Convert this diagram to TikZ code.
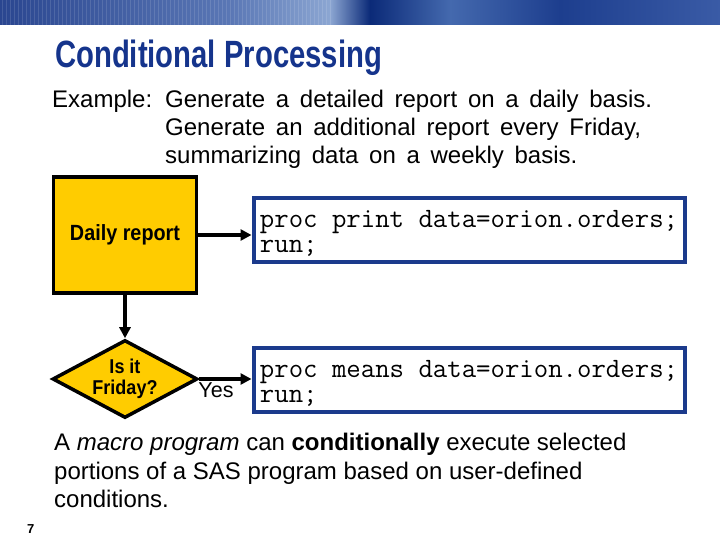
\documentclass[tikz,border=0pt]{standalone}
\usepackage{fontspec}
\setmainfont{Liberation Sans}
\newfontfamily\titlefont[FakeStretch=0.77]{Liberation Sans}
\newfontfamily\narrowfont[FakeStretch=0.9]{Liberation Sans}
\newfontfamily\examplefont[WordSpace=1.6]{Liberation Sans}
\newfontfamily\codefont[WordSpace={1,0,0}]{Latin Modern Mono}
\newcommand\codestrut{\rule{0pt}{23pt}}
\usetikzlibrary{arrows.meta,positioning,shapes.geometric}

\definecolor{titleblue}{HTML}{15348C}
\definecolor{boxblue}{HTML}{1B3A8C}
\definecolor{flowyellow}{HTML}{FFCC00}

\begin{document}
\begin{tikzpicture}[x=1pt, y=-1pt,
    % --- Text styles ---
    body text/.style={anchor=base west, inner sep=0pt, font=\fontsize{24}{28}\selectfont},
    example text/.style={body text, font=\examplefont\fontsize{24}{28}\selectfont},
    % --- Flowchart shapes ---
    step box/.style={draw, line width=3.5pt, fill=flowyellow, minimum width=143pt,
                     minimum height=116pt, font=\narrowfont\bfseries\fontsize{22}{26}\selectfont},
    decision/.style={draw, diamond, line width=3.5pt, fill=flowyellow, aspect=1.95,
                     minimum width=145pt, minimum height=78pt, inner sep=0pt, align=center,
                     font=\narrowfont\bfseries\fontsize{20}{21}\selectfont},
    code box/.style={draw=boxblue, line width=4pt, fill=white, minimum width=431pt,
                     minimum height=64pt, inner xsep=0pt, align=left,
                     font=\codefont\fontsize{28}{25}\selectfont},
    % --- Connectors ---
    flow arrow/.style={line width=3.5pt, -{Triangle[length=11pt, width=11pt]}},
]
\useasboundingbox (0,0) rectangle (720,540);

% ============================================================
% Banner along the top
% ============================================================
\shade[left color={rgb,255:red,42;green,70;blue,144}, right color={rgb,255:red,90;green,119;blue,181}] (0,0) rectangle (230,25);
\shade[left color={rgb,255:red,90;green,119;blue,181}, right color={rgb,255:red,140;green,166;blue,210}] (230,0) rectangle (330,25);
\shade[left color={rgb,255:red,140;green,166;blue,210}, right color={rgb,255:red,11;green,42;blue,120}] (330,0) rectangle (370,25);
\shade[left color={rgb,255:red,11;green,42;blue,120}, right color={rgb,255:red,68;green,105;blue,174}] (370,0) rectangle (450,25);
\shade[left color={rgb,255:red,68;green,105;blue,174}, right color={rgb,255:red,29;green,62;blue,142}] (450,0) rectangle (560,25);
\shade[left color={rgb,255:red,29;green,62;blue,142}, right color={rgb,255:red,58;green,91;blue,166}] (560,0) rectangle (720,25);
% faint stripes on the left part
\foreach \sx in {2,6,...,330}
  \draw[white, opacity=0.12, line width=1pt] (\sx,0) -- (\sx,25);

% ============================================================
% Title and example
% ============================================================
\node[anchor=base west, inner sep=0pt, text=titleblue,
      font=\titlefont\bfseries\fontsize{38}{40}\selectfont] (title) at (55,68) {Conditional Processing};

\node[example text] (ex1) at (52,108)  {Example:};
\node[example text] (ex2) at (165,108) {Generate a detailed report on a daily basis.};
\node[example text] (ex3) at (165,136) {Generate an additional report every Friday,};
\node[example text] (ex4) at (165,164) {summarizing data on a weekly basis.};

% ============================================================
% Flowchart
% ============================================================
\node[step box] (daily)  at (125,235) {Daily report};
\node[decision] (friday) at (125,379) {Is it\\Friday?};

\node[code box] (print) at (469,230) {\codestrut proc print data=orion.orders;\\run;};
\node[code box] (means) at (469,380) {\codestrut proc means data=orion.orders;\\run;};

\node[font=\fontsize{21.5}{24}\selectfont] (yes) at (216,390) {Yes};

\draw[flow arrow] (daily) -- (daily -| print.west);
\draw[flow arrow] (daily) -- (friday);
\draw[flow arrow] (friday) -- (friday -| means.west);

% ============================================================
% Note and page number
% ============================================================
\node[body text] (note1) at (54,450) {A \textit{macro program} can \textbf{conditionally} execute selected};
\node[body text] (note2) at (54,479) {portions of a SAS program based on user-defined};
\node[body text] (note3) at (54,507) {conditions.};

\node[anchor=base west, inner sep=0pt, font=\bfseries\fontsize{13}{15}\selectfont] (pagenum) at (27,533) {7};

\end{tikzpicture}
\end{document}
